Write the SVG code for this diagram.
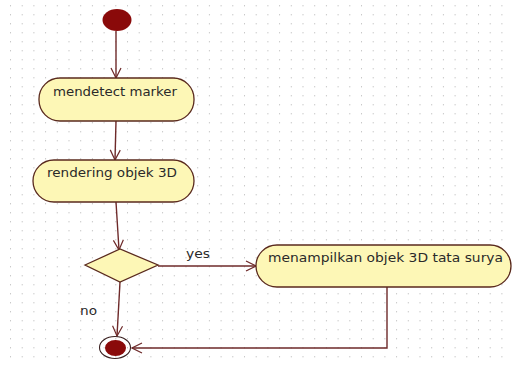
<svg xmlns="http://www.w3.org/2000/svg" width="513" height="365" viewBox="0 0 513 365">
  <defs>
    <pattern id="grid" x="10" y="5" width="11.7" height="9" patternUnits="userSpaceOnUse">
      <rect x="0" y="0" width="1" height="1.4" fill="#c8c8c8"/>
    </pattern>
    <marker id="open" viewBox="0 0 12 12" refX="11" refY="6" markerWidth="12" markerHeight="12" markerUnits="userSpaceOnUse" orient="auto">
      <path d="M1,1 L11,6 L1,11" fill="none" stroke="#6e2a2a" stroke-width="1.2"/>
    </marker>
  </defs>
  <style>
    .act { fill: #fdf7b6; stroke: #5a2a1e; stroke-width: 1.3; }
    .lbl { font-family: "DejaVu Sans", Verdana, sans-serif; font-size: 12.5px; fill: #2a2a2a; }
    .edge { fill: none; stroke: #6e2a2a; stroke-width: 1.4; }
    .dot { fill: #8a0a0a; }
  </style>

  <rect width="513" height="365" fill="#ffffff"/>
  <rect width="513" height="365" fill="url(#grid)"/>

  <g id="connectors">
    <line class="edge" x1="116" y1="31" x2="116" y2="78" marker-end="url(#open)"/>
    <line class="edge" x1="116" y1="121" x2="115" y2="160" marker-end="url(#open)"/>
    <line class="edge" x1="116" y1="202" x2="119" y2="250" marker-end="url(#open)"/>
    <line class="edge" x1="158" y1="266" x2="256" y2="266" marker-end="url(#open)"/>
    <line class="edge" x1="120" y1="282" x2="117" y2="336" marker-end="url(#open)"/>
    <polyline class="edge" points="387,287 387,348 132,348" marker-end="url(#open)"/>
    <text class="lbl" x="186" y="258" textLength="24" lengthAdjust="spacingAndGlyphs">yes</text>
    <text class="lbl" x="80" y="315" textLength="17" lengthAdjust="spacingAndGlyphs">no</text>
  </g>

  <g id="start">
    <ellipse class="dot" cx="117" cy="20" rx="14.5" ry="11"/>
  </g>

  <g id="mendetect-marker">
    <rect class="act" x="39" y="78" width="155" height="43" rx="21" ry="21"/>
    <text class="lbl" x="53" y="96" textLength="124" lengthAdjust="spacingAndGlyphs">mendetect marker</text>
  </g>

  <g id="rendering-objek">
    <rect class="act" x="33" y="160" width="161" height="42" rx="21" ry="21"/>
    <text class="lbl" x="47" y="177" textLength="130" lengthAdjust="spacingAndGlyphs">rendering objek 3D</text>
  </g>

  <g id="decision">
    <polygon class="act" points="85,265 120,249 158,265 120,282"/>
  </g>

  <g id="menampilkan-objek">
    <rect class="act" x="256" y="245" width="255" height="42" rx="21" ry="21"/>
    <text class="lbl" x="268" y="262" textLength="235" lengthAdjust="spacingAndGlyphs">menampilkan objek 3D tata surya</text>
  </g>

  <g id="end">
    <ellipse cx="115" cy="347.5" rx="15.5" ry="11" fill="none" stroke="#3a2020" stroke-width="1.1"/>
    <ellipse class="dot" cx="115.5" cy="348" rx="10.5" ry="8"/>
  </g>
</svg>
